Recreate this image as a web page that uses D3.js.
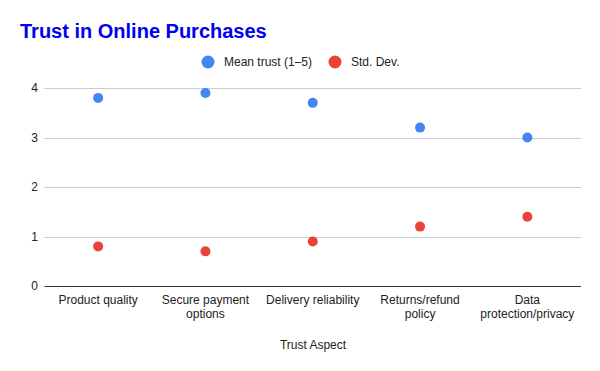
<!DOCTYPE html>
<html>
<head>
<meta charset="utf-8">
<script src="https://cdn.jsdelivr.net/npm/d3@7"></script>
<style>
  body { margin: 0; background: #fff; }
  svg { font-family: "Liberation Sans", Arial, sans-serif; }
</style>
</head>
<body>
<svg id="chart" width="600" height="371"></svg>
<script>
// chart data
const aspects = [["Product quality"], ["Secure payment", "options"], ["Delivery reliability"], ["Returns/refund", "policy"], ["Data", "protection/privacy"]];
const meanTrust = [3.8, 3.9, 3.7, 3.2, 3.0];
const stdDev = [0.8, 0.7, 0.9, 1.2, 1.4];
const yTicks = [0, 1, 2, 3, 4];
const seriesNames = ["Mean trust (1\u20135)", "Std. Dev."];
const colors = ["#4285F4", "#EA4335"];

const svg = d3.select("#chart");
const margin = { left: 44.5, right: 581, top: 88, bottom: 286 };

const x = d3.scaleBand()
  .domain(d3.range(aspects.length))
  .range([margin.left, margin.right]);

const y = d3.scaleLinear()
  .domain([0, 4])
  .range([margin.bottom, margin.top]);

// title
svg.append("text")
  .attr("x", 20).attr("y", 38)
  .attr("font-size", 20).attr("font-weight", "bold")
  .attr("fill", "#0000EE")
  .text("Trust in Online Purchases");

// legend
const legendX = [208, 335];
seriesNames.forEach((name, i) => {
  svg.append("circle")
    .attr("cx", legendX[i]).attr("cy", 62).attr("r", 6.5)
    .attr("fill", colors[i]);
  svg.append("text")
    .attr("x", legendX[i] + 16).attr("y", 66)
    .attr("font-size", 12).attr("fill", "#222")
    .text(name);
});

// gridlines
svg.append("g")
  .selectAll("line")
  .data(yTicks.filter(d => d > 0))
  .join("line")
  .attr("x1", margin.left).attr("x2", margin.right)
  .attr("y1", d => Math.round(y(d)) + 0.5).attr("y2", d => Math.round(y(d)) + 0.5)
  .attr("stroke", "#ccc");

// baseline
svg.append("line")
  .attr("x1", margin.left).attr("x2", margin.right)
  .attr("y1", Math.round(y(0)) + 0.5).attr("y2", Math.round(y(0)) + 0.5)
  .attr("stroke", "#333");

// y tick labels
svg.append("g")
  .selectAll("text")
  .data(yTicks)
  .join("text")
  .attr("x", 38).attr("y", d => y(d) + 4)
  .attr("text-anchor", "end")
  .attr("font-size", 12).attr("fill", "#222")
  .text(d => d);

// x tick labels
const xLabels = svg.append("g")
  .selectAll("text")
  .data(aspects)
  .join("text")
  .attr("x", (d, i) => x(i) + x.bandwidth() / 2)
  .attr("y", 304)
  .attr("text-anchor", "middle")
  .attr("font-size", 12).attr("fill", "#222");
xLabels.selectAll("tspan")
  .data(d => d)
  .join("tspan")
  .attr("x", function () { return d3.select(this.parentNode).attr("x"); })
  .attr("dy", (d, i) => i === 0 ? 0 : 14)
  .text(d => d);

// axis title
svg.append("text")
  .attr("x", 313).attr("y", 349)
  .attr("text-anchor", "middle")
  .attr("font-size", 12).attr("fill", "#222")
  .text("Trust Aspect");

// points
[meanTrust, stdDev].forEach((vals, s) => {
  svg.append("g")
    .selectAll("circle")
    .data(vals)
    .join("circle")
    .attr("cx", (d, i) => x(i) + x.bandwidth() / 2)
    .attr("cy", d => y(d))
    .attr("r", 5)
    .attr("fill", colors[s]);
});
</script>
</body>
</html>
